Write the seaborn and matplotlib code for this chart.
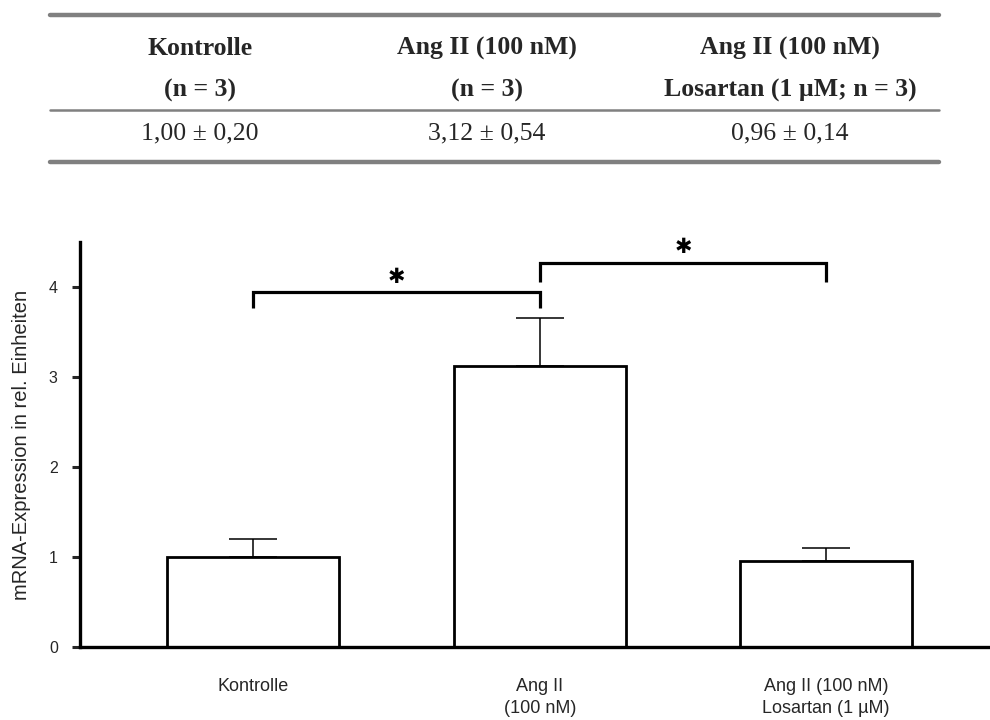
import matplotlib
matplotlib.use("Agg")
import matplotlib.pyplot as plt
import seaborn as sns
import pandas as pd
from matplotlib.lines import Line2D

# ---- data ----
categories = ["Kontrolle", "Ang II\n(100 nM)", "Ang II (100 nM)\nLosartan (1 µM)"]
means = [1.00, 3.12, 0.96]
sems = [0.20, 0.54, 0.14]
yticks = [0, 1, 2, 3, 4]

table_head1 = ["Kontrolle", "Ang II (100 nM)", "Ang II (100 nM)"]
table_head2 = ["(n = 3)", "(n = 3)", "Losartan (1 µM; n = 3)"]
table_values = ["1,00 ± 0,20", "3,12 ± 0,54", "0,96 ± 0,14"]

# significance brackets: (start index, end index, height, drop)
brackets = [(0, 1, 3.94, 0.17), (1, 2, 4.27, 0.21)]

sns.set_theme(style="white")
plt.rcParams['font.family'] = ['Liberation Sans', 'DejaVu Sans']

fig = plt.figure(figsize=(9.9, 7.2), dpi=100)
ax = fig.add_axes([0.0808, 0.1014, 0.919, 0.5625])

df = pd.DataFrame({"cat": categories, "val": means})
sns.barplot(data=df, x="cat", y="val", ax=ax, color="white", edgecolor="black",
            linewidth=2.0, width=0.6, errorbar=None, saturation=1)
xs = list(range(len(categories)))
ax.errorbar(xs, means, yerr=[[0] * len(sems), sems], fmt="none", ecolor="black",
            elinewidth=1.1, capsize=17, capthick=1.1, zorder=1)

ax.set_xlim(-0.605, 2.571)
ax.set_ylim(0, 4.5)
ax.set_yticks(yticks)
ax.set_yticklabels([str(t) for t in yticks], fontsize=11.5)
ax.set_xlabel("")
ax.set_ylabel("mRNA-Expression in rel. Einheiten", fontsize=14.5, labelpad=13)
ax.set_xticks(xs)
ax.set_xticklabels(categories, fontsize=13, linespacing=1.45)
ax.tick_params(axis="x", length=0, pad=22)
ax.tick_params(axis="y", direction="out", length=6, width=2.2, left=True, pad=10)
for s in ["top", "right"]:
    ax.spines[s].set_visible(False)
for s in ["left", "bottom"]:
    ax.spines[s].set_linewidth(2.4)
    ax.spines[s].set_color("black")

for (i, j, h, d) in brackets:
    ax.plot([xs[i], xs[i], xs[j], xs[j]], [h - d, h, h, h - d], color="black",
             lw=2.3, solid_capstyle="butt", solid_joinstyle="miter", clip_on=False)
    ax.text((xs[i] + xs[j]) / 2, h + 0.06, "✱", ha="center", va="bottom",
            fontsize=15, family="DejaVu Sans", weight="bold", color="black")

# ---- table on top ----
gray = "#808080"
x0, x1 = 0.0505, 0.948
fig.add_artist(Line2D([x0, x1], [0.979, 0.979], color=gray, lw=3.2, transform=fig.transFigure))
fig.add_artist(Line2D([x0, x1], [0.847, 0.847], color=gray, lw=1.8, transform=fig.transFigure))
fig.add_artist(Line2D([x0, x1], [0.775, 0.775], color=gray, lw=3.2, transform=fig.transFigure))
col_x = [200 / 990, 487 / 990, 790 / 990]
for cx, h1, h2, v in zip(col_x, table_head1, table_head2, table_values):
    fig.text(cx, 0.933, h1, ha="center", va="center", fontsize=18.5,
             family="Liberation Serif", weight="bold")
    fig.text(cx, 0.875, h2, ha="center", va="center", fontsize=18.5,
             family="Liberation Serif", weight="bold")
    fig.text(cx, 0.815, v, ha="center", va="center", fontsize=18.5,
             family="Liberation Serif")

fig.savefig("out.png", dpi=100)
